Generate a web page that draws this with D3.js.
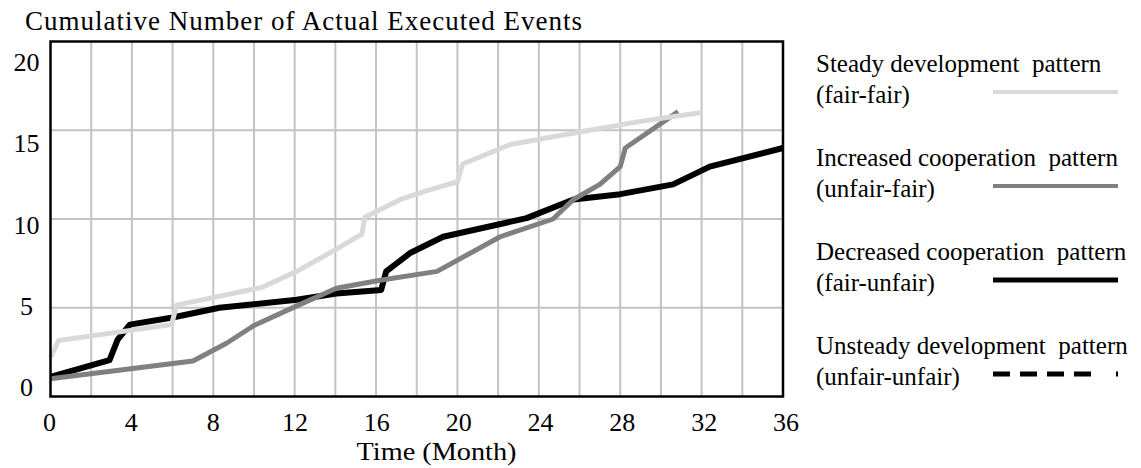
<!DOCTYPE html>
<html><head><meta charset="utf-8">
<script src="https://cdn.jsdelivr.net/npm/d3@7"></script>
<style>
body{margin:0;background:#fff}
svg{display:block}
text{font-family:"Liberation Serif","Times New Roman",serif;fill:#000}
</style></head><body>
<svg id="c" width="1141" height="468"></svg>
<script>
// ---- data ----
const steadyTime  = [0, 0.4, 5.95, 6.2, 10.4, 12.1, 14.05, 15.3, 15.45, 17.2, 18.5, 20.0, 20.25, 22.6, 26.0, 29.0, 32];
const steadyValue = [2.2, 3.15, 4.05, 5.15, 6.15, 7.05, 8.3, 9.15, 10.1, 11.1, 11.6, 12.1, 13.1, 14.2, 14.9, 15.5, 16.0];

const increasedTime  = [0, 7.0, 8.65, 10.0, 12.0, 14.05, 16.2, 19.0, 22.1, 24.7, 25.7, 27.0, 28.0, 28.25, 30.85];
const increasedValue = [1.0, 2.0, 3.0, 4.0, 5.05, 6.1, 6.55, 7.05, 9.0, 10.0, 11.1, 11.95, 12.95, 14.0, 16.05];

const decreasedTime  = [0, 2.9, 3.3, 3.9, 6.0, 8.3, 12.1, 14.05, 16.25, 16.5, 17.7, 19.3, 23.4, 25.7, 28.0, 30.6, 32.4, 36];
const decreasedValue = [1.1, 2.05, 3.2, 4.05, 4.45, 5.0, 5.45, 5.8, 6.0, 7.05, 8.1, 9.0, 10.05, 11.1, 11.4, 11.95, 12.95, 14.0];

const xTicks = [0, 4, 8, 12, 16, 20, 24, 28, 32, 36];
const yTicks = [0, 5, 10, 15, 20];
const xGrid  = [2,4,6,8,10,12,14,16,18,20,22,24,26,28,30,32,34];
const yGrid  = [5, 10, 15];

const legendLine1 = ["Steady development  pattern", "Increased cooperation  pattern", "Decreased cooperation  pattern", "Unsteady development  pattern"];
const legendLine2 = ["(fair-fair)", "(unfair-fair)", "(fair-unfair)", "(unfair-unfair)"];
const titleText = "Cumulative Number of Actual Executed Events";
const xTitle = "Time (Month)";

// ---- drawing ----
const svg = d3.select("#c");
const x = d3.scaleLinear().domain([0, 36]).range([50.5, 783]);
const y = d3.scaleLinear().domain([0, 20]).range([396.5, 41.5]);
const xLab = d3.scaleLinear().domain([0, 36]).range([49.5, 786]);
const yLab = d3.scaleLinear().domain([0, 20]).range([396, 71]);

// grid
svg.append("g").selectAll("line").data(xGrid).join("line")
  .attr("x1", d => x(d)).attr("x2", d => x(d))
  .attr("y1", y(20)).attr("y2", y(0))
  .attr("stroke", "#c3c3c3").attr("stroke-width", 2);
svg.append("g").selectAll("line").data(yGrid).join("line")
  .attr("x1", x(0)).attr("x2", x(36))
  .attr("y1", d => y(d)).attr("y2", d => y(d))
  .attr("stroke", "#c3c3c3").attr("stroke-width", 2);

// series
const line = d3.line().x(d => x(d[0])).y(d => y(d[1]));
const zip = (a, b) => a.map((t, i) => [t, b[i]]);
const series = [
  {pts: zip(decreasedTime, decreasedValue), color: "#000000", w: 6},
  {pts: zip(increasedTime, increasedValue), color: "#808080", w: 5},
  {pts: zip(steadyTime, steadyValue), color: "#d9d9d9", w: 5}
];
svg.append("g").selectAll("path").data(series).join("path")
  .attr("d", d => line(d.pts))
  .attr("fill", "none")
  .attr("stroke", d => d.color)
  .attr("stroke-width", d => d.w)
  .attr("stroke-linejoin", "round");

// frame
svg.append("rect")
  .attr("x", x(0)).attr("y", y(20))
  .attr("width", x(36) - x(0)).attr("height", y(0) - y(20))
  .attr("fill", "none").attr("stroke", "#000").attr("stroke-width", 2.5);

// tick labels
svg.append("g").selectAll("text").data(xTicks).join("text")
  .attr("x", d => xLab(d)).attr("y", 431)
  .attr("text-anchor", "middle").attr("font-size", 26)
  .text(d => d);
svg.append("g").selectAll("text").data(yTicks).join("text")
  .attr("x", 26.5).attr("y", d => yLab(d))
  .attr("text-anchor", "middle").attr("font-size", 26)
  .text(d => d);

// titles
svg.append("text").attr("x", 25).attr("y", 30)
  .attr("font-size", 27).attr("textLength", 557).attr("lengthAdjust", "spacing")
  .text(titleText);
svg.append("text").attr("x", 436.5).attr("y", 460)
  .attr("text-anchor", "middle").attr("font-size", 25)
  .attr("textLength", 160).attr("lengthAdjust", "spacingAndGlyphs")
  .text(xTitle);

// legend
const sampleY = [92, 186, 280, 374];
const sampleColor = ["#d9d9d9", "#808080", "#000000", "#000000"];
const sampleW = [4, 4, 5, 5];
const leg = svg.append("g");
legendLine1.forEach((s, i) => {
  leg.append("text").attr("x", 816).attr("y", sampleY[i] - 20)
    .attr("font-size", 25).style("white-space", "pre").text(s);
  leg.append("text").attr("x", 816).attr("y", sampleY[i] + 11)
    .attr("font-size", 25).text(legendLine2[i]);
  const l = leg.append("line").attr("x1", 993).attr("x2", 1118)
    .attr("y1", sampleY[i]).attr("y2", sampleY[i])
    .attr("stroke", sampleColor[i]).attr("stroke-width", sampleW[i]);
  if (i === 3) l.attr("stroke-dasharray", "17,10,17,10,17,10,17,10,0,15,2,50");
});
</script>
</body></html>
